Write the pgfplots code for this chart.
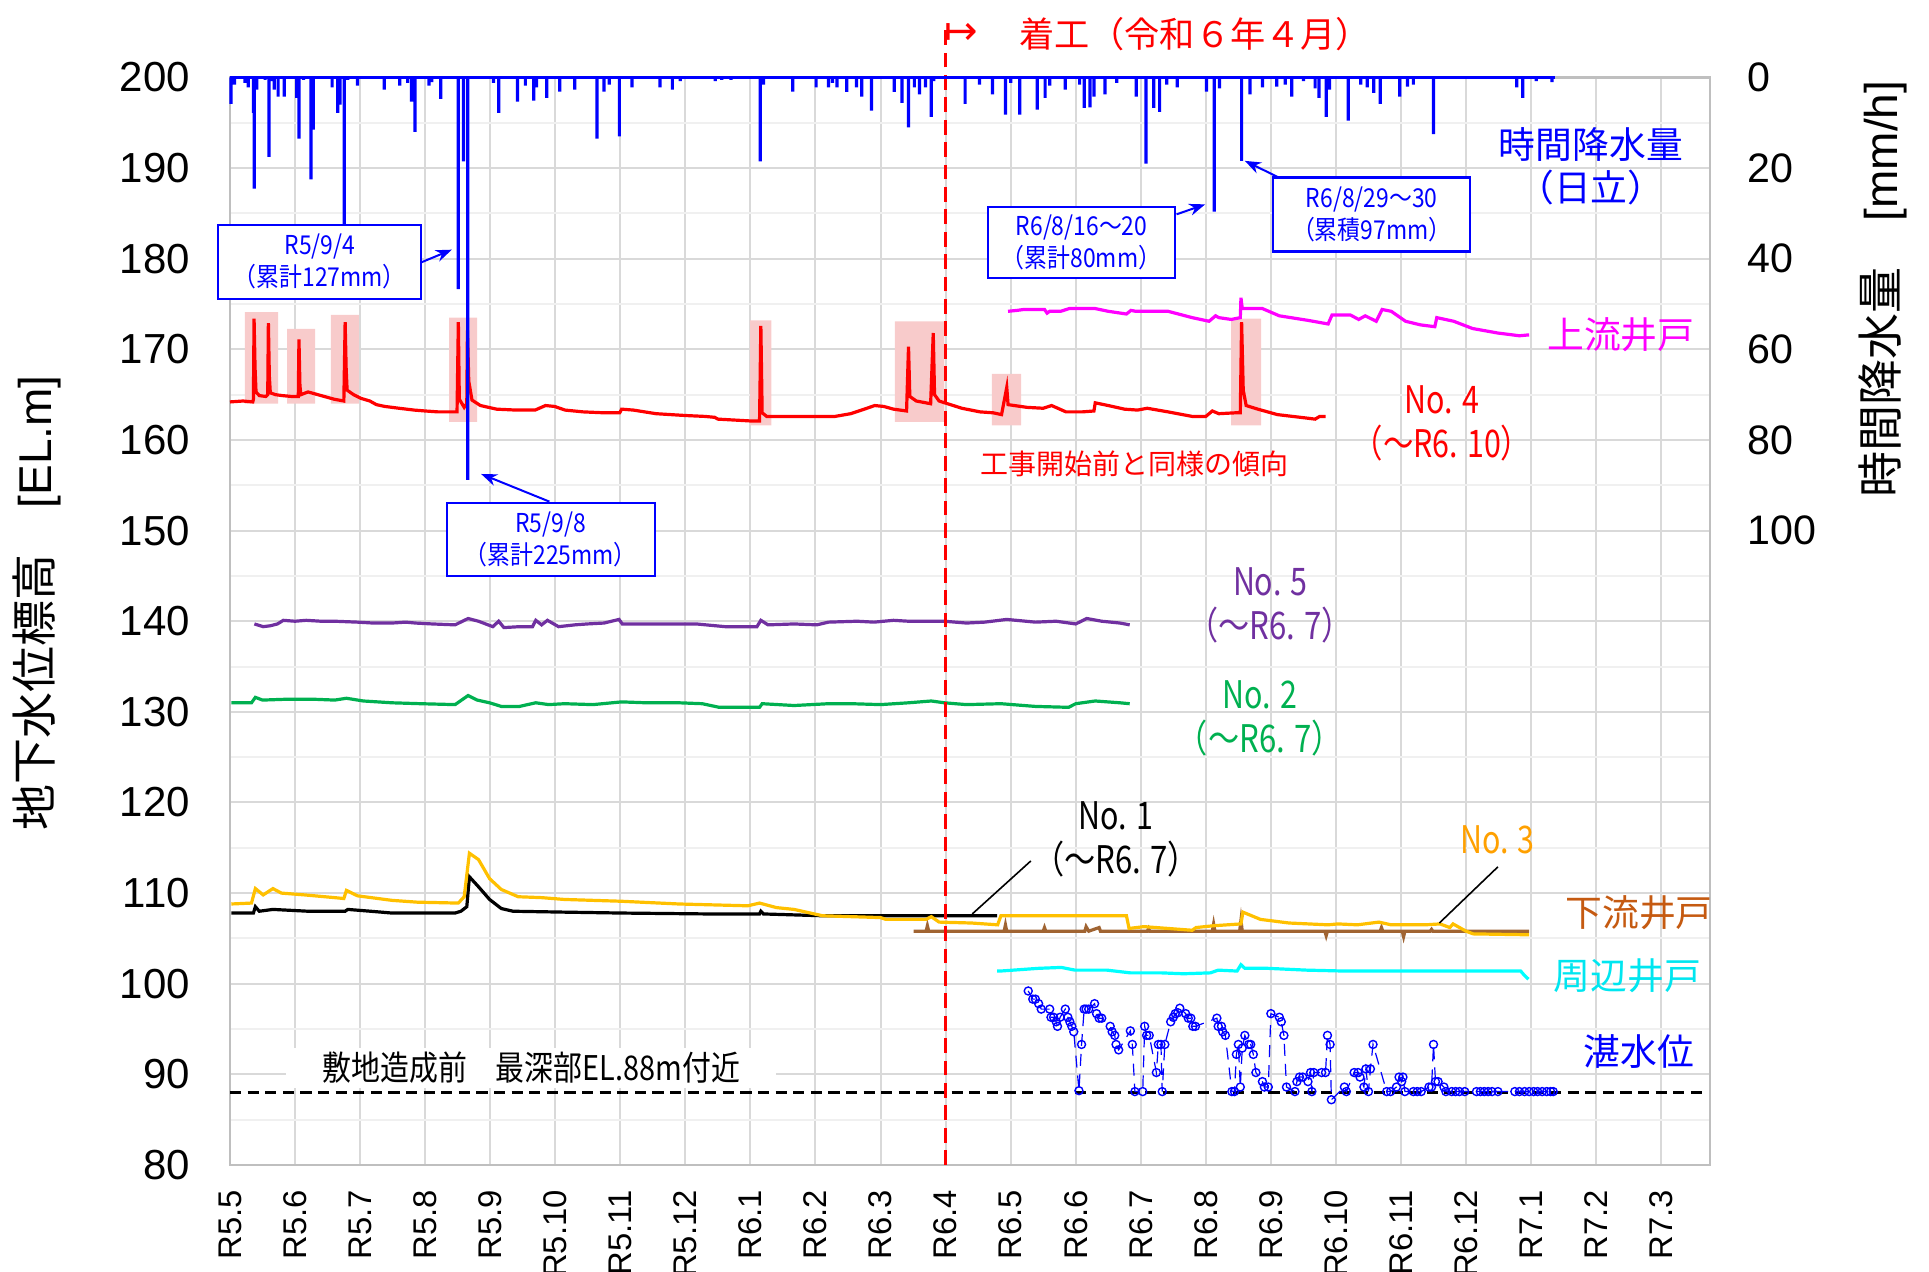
\documentclass[border=0pt]{standalone}
\usepackage{pgfplots}
\pgfplotsset{compat=1.18}
\usepackage{pgfplotstable}
\usepackage{graphicx}
\usepackage{fontspec}
\usetikzlibrary{arrows.meta}
\setmainfont{Liberation Sans}
\newfontfamily\jp{Noto Sans CJK JP}
\newfontfamily\dv{DejaVu Sans}
\newcommand{\sx}[2]{\scalebox{#1}[1]{#2}}

\definecolor{gridc}{RGB}{217,217,217}
\definecolor{gridm}{RGB}{240,240,240}
\definecolor{no5}{RGB}{112,48,160}
\definecolor{no2}{RGB}{0,176,80}
\definecolor{no3}{RGB}{255,192,0}
\definecolor{no3t}{RGB}{255,160,0}
\definecolor{down}{RGB}{160,100,50}
\definecolor{downt}{RGB}{197,90,17}
\definecolor{pinkbox}{RGB}{248,203,203}
\definecolor{rainblue}{RGB}{0,0,255}
\definecolor{mag}{RGB}{255,0,255}
\definecolor{cya}{RGB}{0,255,255}
\definecolor{cyat}{RGB}{0,230,240}

% rainfall (month index from R5.5, mm/h)
\pgfplotstableread{
x r
0.015 5.8
0.07 1.6
0.23 1.2
0.28 2.2
0.36 7.8
0.374 24.5
0.41 2.7
0.54 0.5
0.60 17.5
0.64 0.8
0.68 2.7
0.74 4.2
0.835 4.2
1.025 4.5
1.06 13.5
1.13 0.5
1.245 22.5
1.28 11.5
1.57 2.2
1.655 7.8
1.69 6.0
1.757 48
1.81 0.5
1.96 1.8
2.37 2.7
2.61 1.8
2.73 1.2
2.79 5.3
2.845 12.0
3.06 1.8
3.10 1.0
3.24 4.7
3.51 46.7
3.59 18.5
3.655 88.8
4.05 1.2
4.13 7.8
4.42 5.3
4.54 1.8
4.67 5.1
4.71 2.2
4.87 4.5
5.07 3.1
5.30 2.7
5.64 13.5
5.75 3.1
5.83 1.6
5.985 13
6.18 2.2
6.61 2.2
6.80 2.7
6.92 0.8
7.46 0.8
7.56 0.5
7.70 0.5
8.15 18.5
8.20 1.6
8.65 3.1
9.01 2.2
9.20 2.2
9.26 1.2
9.33 2.2
9.48 3.2
9.63 2.2
9.71 4.2
9.86 7.3
10.21 3.2
10.33 5.6
10.43 11
10.52 2.2
10.60 3.7
10.69 2.2
10.78 8.7
10.82 0.8
11.30 5.8
11.52 1.6
11.72 3.7
11.92 8.2
12.00 1.2
12.14 8.2
12.41 7.1
12.53 4.5
12.60 1.8
12.84 2.7
13.06 1.6
13.13 6.7
13.22 6.6
13.28 4.2
13.45 3.7
13.63 1.2
13.93 4.2
14.08 19
14.20 6.7
14.29 7.6
14.40 1.6
14.56 2.2
15.01 3.1
15.13 29.6
15.21 2.4
15.55 18.4
15.68 3.7
15.87 2.2
16.09 2.0
16.22 1.6
16.32 4.2
16.50 0.8
16.68 2.4
16.74 4.5
16.85 8.7
16.90 2.7
17.19 9.5
17.38 1.6
17.48 2.2
17.58 3.4
17.68 5.8
17.98 4.2
18.10 2.0
18.19 1.6
18.50 12.5
19.78 2.2
19.87 4.5
20.08 0.8
20.32 1.0
}\raintable

% No.4
\pgfplotstableread{
x y
0.00 164.2
0.20 164.3
0.35 164.2
0.36 164.5
0.37 173.4
0.385 168
0.40 165.3
0.45 164.9
0.55 164.8
0.58 165.0
0.59 172.9
0.605 167
0.62 165.2
0.70 165.0
0.80 164.9
0.95 164.8
1.05 164.8
1.06 171.1
1.075 166
1.09 165.0
1.20 165.3
1.30 165.1
1.45 164.8
1.60 164.5
1.75 164.3
1.77 173.0
1.785 168
1.80 165.5
1.90 165.0
2.01 164.6
2.15 164.3
2.25 163.9
2.38 163.7
2.60 163.5
2.83 163.3
3.00 163.2
3.20 163.1
3.49 163.1
3.51 173.0
3.525 164.5
3.60 163.6
3.64 164.0
3.65 172.1
3.67 166.5
3.72 164.4
3.85 163.8
4.10 163.4
4.40 163.3
4.69 163.3
4.85 163.8
4.99 163.7
5.15 163.3
5.43 163.1
5.75 163.0
5.99 163.0
6.02 163.4
6.20 163.3
6.55 162.9
7.00 162.7
7.30 162.6
7.45 162.5
7.50 162.3
8.00 162.1
8.14 162.1
8.16 172.6
8.18 163.0
8.25 162.6
8.79 162.6
9.30 162.6
9.54 162.9
9.75 163.4
9.91 163.8
10.05 163.7
10.20 163.4
10.40 163.2
10.43 170.3
10.45 164.8
10.55 164.3
10.77 164.0
10.81 171.8
10.83 165.0
10.90 164.3
11.03 164.0
11.25 163.5
11.53 163.1
11.73 163.0
11.86 162.8
11.94 165.8
11.96 163.9
12.25 163.6
12.50 163.5
12.63 163.8
12.85 163.1
13.10 163.1
13.28 163.2
13.30 164.1
13.50 163.8
13.75 163.4
13.95 163.3
14.10 163.5
14.42 163.1
14.79 162.6
15.00 162.6
15.10 163.2
15.20 162.9
15.46 163.0
15.53 163.0
15.55 173.0
15.575 165.5
15.62 163.8
15.80 163.4
16.10 162.8
16.57 162.4
16.68 162.3
16.75 162.6
16.84 162.6
}\noFour

% upstream well
\pgfplotstableread{
x y
11.96 174.2
12.10 174.3
12.20 174.4
12.52 174.4
12.56 174.0
12.60 174.2
12.77 174.2
12.90 174.5
13.30 174.5
13.50 174.2
13.78 173.9
13.85 174.3
13.92 174.2
14.42 174.2
14.79 173.5
15.05 173.1
15.15 173.7
15.20 173.5
15.39 173.3
15.53 173.5
15.54 175.7
15.56 174.5
15.87 174.5
16.13 173.7
16.57 173.2
16.88 172.8
16.94 173.8
17.22 173.8
17.35 173.3
17.45 173.7
17.62 173.1
17.71 174.4
17.85 174.2
18.07 173.1
18.30 172.7
18.52 172.5
18.55 173.5
18.81 173.1
19.10 172.3
19.49 171.8
19.82 171.5
19.97 171.6
}\upWell

% No.5
\pgfplotstableread{
x y
0.375 139.7
0.51 139.4
0.62 139.5
0.73 139.7
0.82 140.1
1.00 140.0
1.17 140.1
1.40 140.0
1.61 140.0
1.96 139.9
2.20 139.8
2.49 139.8
2.70 139.9
2.85 139.8
3.11 139.7
3.46 139.6
3.66 140.3
3.82 140.0
4.04 139.4
4.13 140.0
4.21 139.3
4.45 139.4
4.65 139.4
4.70 140.1
4.79 139.6
4.88 140.1
5.05 139.4
5.30 139.6
5.49 139.7
5.75 139.8
5.98 140.2
6.03 139.7
6.55 139.7
7.17 139.7
7.61 139.4
8.10 139.4
8.16 140.1
8.27 139.6
8.67 139.7
9.02 139.6
9.20 139.9
9.64 140.0
9.90 139.9
10.20 140.1
10.43 140.0
10.98 140.0
11.32 139.8
11.60 139.9
11.94 140.2
12.38 139.9
12.70 140.0
13.00 139.7
13.17 140.3
13.40 140.0
13.68 139.8
13.83 139.6
}\noFive

% No.2
\pgfplotstableread{
x y
0.02 131.0
0.33 131.0
0.39 131.6
0.50 131.3
0.90 131.4
1.26 131.4
1.61 131.3
1.79 131.5
2.05 131.2
2.49 131.0
2.93 130.9
3.46 130.8
3.66 131.8
3.80 131.3
3.99 131.0
4.17 130.6
4.45 130.6
4.70 131.0
4.90 130.8
5.14 130.9
5.58 130.8
6.02 131.1
6.40 131.0
6.90 131.0
7.26 130.9
7.52 130.5
8.14 130.5
8.18 130.9
8.67 130.7
9.20 130.9
9.55 130.9
10.00 130.8
10.43 131.0
10.78 131.2
10.98 131.0
11.32 130.8
11.85 130.9
12.38 130.6
12.89 130.5
13.00 130.9
13.30 131.2
13.68 131.0
13.83 130.9
}\noTwo

% No.1
\pgfplotstableread{
x y
0.02 107.8
0.36 107.8
0.39 108.5
0.45 108.0
0.66 108.2
1.20 108.0
1.77 108.0
1.81 108.2
2.16 108.0
2.49 107.8
3.46 107.8
3.55 108.0
3.64 108.5
3.68 111.8
3.82 110.7
3.99 109.3
4.17 108.3
4.35 108.0
5.14 107.9
6.02 107.8
7.35 107.7
8.14 107.7
8.16 108.0
8.20 107.7
9.11 107.5
10.43 107.5
11.40 107.5
11.79 107.5
}\noOne

% No.3
\pgfplotstableread{
x y
0.02 108.8
0.33 108.9
0.39 110.5
0.51 109.8
0.66 110.5
0.79 110.0
1.15 109.8
1.61 109.5
1.75 109.4
1.79 110.3
1.96 109.7
2.49 109.2
2.88 109.0
3.51 108.9
3.60 109.6
3.68 114.4
3.82 113.7
3.99 111.6
4.17 110.4
4.43 109.6
4.79 109.5
5.14 109.3
6.02 109.1
6.90 108.8
7.96 108.6
8.14 108.9
8.40 108.4
8.67 108.2
9.11 107.5
10.00 107.3
10.08 107.1
10.70 107.1
10.78 107.4
10.90 106.8
11.40 106.7
11.80 106.5
11.85 107.5
12.40 107.5
13.08 107.5
13.78 107.5
13.82 106.1
14.05 106.3
14.79 105.9
14.85 106.2
15.12 106.4
15.54 106.6
15.57 107.9
15.84 107.1
16.28 106.7
16.88 106.5
17.03 106.6
17.33 106.5
17.66 106.8
17.85 106.5
18.37 106.5
18.60 106.6
18.75 106.2
18.80 106.6
19.00 105.8
19.11 105.5
19.97 105.4
}\noThree

% downstream well
\pgfplotstableread{
x y
10.51 105.8
10.70 105.8
10.72 106.4
10.74 105.8
11.50 105.8
11.90 105.8
11.92 106.5
11.94 105.8
12.50 105.8
12.52 106.2
12.54 105.8
13.14 105.8
13.16 106.3
13.20 105.8
13.36 106.2
13.38 105.8
14.10 105.8
14.12 106.1
14.14 105.8
15.10 105.8
15.12 106.6
15.14 105.8
15.52 105.8
15.54 107.0
15.56 105.8
16.83 105.8
16.85 105.3
16.87 105.8
17.68 105.8
17.70 106.2
17.72 105.8
18.02 105.8
18.04 105.2
18.06 105.8
18.45 105.8
18.47 106.0
18.49 105.8
19.97 105.8
}\downWell

% surrounding well
\pgfplotstableread{
x y
11.79 101.4
11.84 101.4
12.43 101.7
12.78 101.8
12.99 101.5
13.48 101.5
13.84 101.2
14.31 101.2
14.66 101.1
15.07 101.2
15.19 101.5
15.48 101.4
15.54 102.1
15.60 101.7
15.95 101.7
16.55 101.5
17.13 101.4
17.72 101.4
19.84 101.4
19.90 100.9
19.96 100.5
}\aroundWell

% ponding level
\pgfplotstableread{
x y
12.27 99.2
12.34 98.3
12.38 98.3
12.43 97.8
12.47 97.2
12.60 97.2
12.62 96.3
12.66 96.3
12.70 95.8
12.72 95.3
12.76 96.3
12.84 97.2
12.88 96.3
12.91 95.8
12.94 95.3
12.97 94.7
13.05 88.2
13.09 93.3
13.13 97.2
13.16 97.2
13.20 97.2
13.29 97.8
13.32 96.7
13.36 96.2
13.40 96.2
13.53 95.3
13.56 94.7
13.60 94.3
13.62 93.3
13.66 92.7
13.84 94.8
13.87 93.3
13.91 88.1
14.03 88.1
14.06 95.3
14.09 94.3
14.13 94.3
14.24 90.2
14.27 93.3
14.31 93.3
14.33 88.1
14.37 93.3
14.46 95.8
14.50 96.3
14.53 96.7
14.57 96.8
14.60 97.3
14.69 96.7
14.73 96.2
14.77 96.2
14.80 95.3
14.84 95.3
15.17 96.2
15.19 95.3
15.24 95.3
15.26 94.7
15.30 94.3
15.40 88.1
15.44 88.1
15.47 92.2
15.50 93.3
15.53 88.6
15.56 92.9
15.60 94.3
15.66 93.3
15.69 93.3
15.73 92.2
15.77 90.2
15.87 89.2
15.90 88.6
15.96 88.6
16.00 96.7
16.13 96.3
16.16 95.8
16.20 94.3
16.24 88.6
16.37 88.1
16.40 89.2
16.44 89.7
16.49 89.7
16.57 89.2
16.61 90.2
16.63 88.1
16.66 90.2
16.78 90.2
16.84 90.2
16.87 94.3
16.91 93.3
16.93 87.2
17.13 88.6
17.16 88.1
17.28 90.2
17.34 90.2
17.37 89.7
17.43 88.6
17.46 90.6
17.50 88.1
17.53 90.6
17.57 93.3
17.78 88.1
17.84 88.1
17.93 88.6
17.97 89.7
18.01 89.2
18.03 89.7
18.06 88.1
18.19 88.1
18.25 88.1
18.31 88.1
18.43 88.6
18.47 88.6
18.50 93.3
18.53 89.2
18.57 89.2
18.66 88.6
18.69 88.1
18.78 88.1
18.84 88.1
18.90 88.1
18.98 88.1
19.16 88.1
19.22 88.1
19.28 88.1
19.34 88.1
19.40 88.1
19.49 88.1
19.75 88.1
19.82 88.1
19.90 88.1
19.97 88.1
20.04 88.1
20.10 88.1
20.17 88.1
20.24 88.1
20.30 88.1
20.34 88.1
}\tanTable

\begin{document}
\begin{tikzpicture}
\path[use as bounding box] (-57.5pt,-26.75pt) rectangle (424.75pt,291.25pt);

\begin{axis}[
  at={(0pt,0pt)}, anchor=south west,
  scale only axis, width=370pt, height=271.875pt,
  xmin=0, xmax=22.75, ymin=80, ymax=200,
  xtick={0,...,22},
  xticklabels={R5.5,R5.6,R5.7,R5.8,R5.9,R5.10,R5.11,R5.12,R6.1,R6.2,R6.3,R6.4,R6.5,R6.6,R6.7,R6.8,R6.9,R6.10,R6.11,R6.12,R7.1,R7.2,R7.3},
  ytick={80,90,...,200},
  minor ytick={85,95,...,195},
  grid=both,
  major grid style={draw=gridc, line width=0.5pt},
  minor grid style={draw=gridm, line width=0.5pt},
  axis line style={draw=gray!50, line width=0.6pt},
  major tick length=0pt, minor tick length=0pt,
  clip=false,
  /pgf/number format/assume math mode=true,
  yticklabel style={font=\fontsize{10.5}{12}\selectfont},
  yticklabel shift=6.5pt,
  xticklabel style={font=\fontsize{8.2}{9}\selectfont, rotate=90, anchor=east},
  xticklabel shift=2.8pt,
]
% highlight boxes
\addplot[fill=pinkbox, draw=none] coordinates {(0.23,164.0) (0.74,164.0) (0.74,174.1) (0.23,174.1) (0.23,164.0)};
\addplot[fill=pinkbox, draw=none] coordinates {(0.88,164.0) (1.31,164.0) (1.31,172.25) (0.88,172.25) (0.88,164.0)};
\addplot[fill=pinkbox, draw=none] coordinates {(1.55,164.0) (1.98,164.0) (1.98,173.8) (1.55,173.8) (1.55,164.0)};
\addplot[fill=pinkbox, draw=none] coordinates {(3.37,162.0) (3.80,162.0) (3.80,173.5) (3.37,173.5) (3.37,162.0)};
\addplot[fill=pinkbox, draw=none] coordinates {(7.99,161.6) (8.32,161.6) (8.32,173.2) (7.99,173.2) (7.99,161.6)};
\addplot[fill=pinkbox, draw=none] coordinates {(10.22,162.0) (10.98,162.0) (10.98,173.1) (10.22,173.1) (10.22,162.0)};
\addplot[fill=pinkbox, draw=none] coordinates {(11.71,161.6) (12.16,161.6) (12.16,167.3) (11.71,167.3) (11.71,161.6)};
\addplot[fill=pinkbox, draw=none] coordinates {(15.39,161.6) (15.85,161.6) (15.85,173.4) (15.39,173.4) (15.39,161.6)};

\node[fill=white, inner xsep=9pt, inner ysep=1pt, font=\jp\fontsize{8.5}{10}\selectfont] at (axis cs:4.63,90.7) {\sx{0.85}{敷地造成前　最深部EL.88m付近}};
\addplot[black, line width=0.85pt, dash pattern=on 2.8pt off 1.6pt] coordinates {(0,88) (22.66,88)};

\addplot[down, line width=0.8pt] table {\downWell};
\addplot[cya, line width=0.8pt] table {\aroundWell};
\addplot[black, line width=0.8pt] table {\noOne};
\addplot[no3, line width=0.8pt] table {\noThree};
\addplot[no2, line width=0.8pt] table {\noTwo};
\addplot[no5, line width=0.8pt] table {\noFive};
\addplot[red, line width=0.8pt] table {\noFour};
\addplot[mag, line width=0.8pt] table {\upWell};
\addplot[blue, line width=0.3pt, densely dashed, mark=o, mark size=1pt, mark options={solid, line width=0.35pt}] table {\tanTable};

\draw[red, line width=0.9pt, dash pattern=on 3.7pt off 1.9pt] (axis cs:11,80) -- (axis cs:11,205.8);

% series labels
\node[text=mag, font=\jp\fontsize{9.2}{11}\selectfont] at (axis cs:21.38,171.6) {上流井戸};
\node[text=red, font=\jp\fontsize{9.5}{11}\selectfont] at (axis cs:18.63,164.4) {\sx{0.8}{No. 4}};
\node[text=red, font=\jp\fontsize{9.5}{11}\selectfont] at (axis cs:18.63,159.7) {\sx{0.8}{（～R6. 10）}};
\node[text=red, font=\jp\fontsize{7}{8}\selectfont] at (axis cs:13.9,157.35) {工事開始前と同様の傾向};
\node[text=no5, font=\jp\fontsize{9.5}{11}\selectfont] at (axis cs:15.99,144.4) {\sx{0.8}{No. 5}};
\node[text=no5, font=\jp\fontsize{9.5}{11}\selectfont] at (axis cs:15.99,139.6) {\sx{0.82}{（～R6. 7）}};
\node[text=no2, font=\jp\fontsize{9.5}{11}\selectfont] at (axis cs:15.83,131.9) {\sx{0.8}{No. 2}};
\node[text=no2, font=\jp\fontsize{9.5}{11}\selectfont] at (axis cs:15.83,127.1) {\sx{0.82}{（～R6. 7）}};
\node[text=black, font=\jp\fontsize{9.5}{11}\selectfont] at (axis cs:13.62,118.5) {\sx{0.8}{No. 1}};
\node[text=black, font=\jp\fontsize{9.5}{11}\selectfont] at (axis cs:13.62,113.8) {\sx{0.82}{（～R6. 7）}};
\draw[black, line width=0.4pt] (axis cs:12.31,113.55) -- (axis cs:11.41,107.7);
\node[text=no3t, font=\jp\fontsize{9.5}{11}\selectfont] at (axis cs:19.48,115.9) {\sx{0.8}{No. 3}};
\draw[black, line width=0.4pt] (axis cs:19.49,112.9) -- (axis cs:18.59,106.7);
\node[text=downt, font=\jp\fontsize{9.2}{11}\selectfont] at (axis cs:21.66,107.8) {下流井戸};
\node[text=cyat, font=\jp\fontsize{9.2}{11}\selectfont] at (axis cs:21.48,100.9) {周辺井戸};
\node[text=blue, font=\jp\fontsize{9.2}{11}\selectfont] at (axis cs:21.66,92.5) {湛水位};
\end{axis}

\begin{axis}[
  at={(0pt,0pt)}, anchor=south west,
  scale only axis, width=370pt, height=271.875pt,
  xmin=0, xmax=22.75, ymin=0, ymax=240, y dir=reverse,
  axis x line=none, axis y line*=right,
  axis line style={draw=none},
  ytick={0,20,...,100},
  major tick length=0pt,
  clip=false,
  /pgf/number format/assume math mode=true,
  yticklabel style={font=\fontsize{10.3}{12}\selectfont},
  yticklabel shift=5.8pt,
]
\addplot[ybar, bar width=0.8pt, fill=rainblue, draw=none] table[x=x, y=r] {\raintable};
\addplot[rainblue, line width=0.9pt] coordinates {(0,0) (20.37,0)};

\tikzset{abox/.style={draw=blue, line width=0.6pt, fill=white, text=blue, align=center, inner sep=1pt, font=\jp\fontsize{6.5}{8}\selectfont}}
\node[abox, minimum width=50.75pt, minimum height=18.5pt] at (axis cs:1.38,40.7) {\sx{0.88}{R5/9/4}\\\sx{0.88}{（累計127mm）}};
\draw[blue, line width=0.5pt, -{Stealth[length=4pt,width=3pt]}] (axis cs:2.94,40.8) -- (axis cs:3.41,38.0);
\node[abox, minimum width=52pt, minimum height=18.25pt] at (axis cs:4.93,102) {\sx{0.88}{R5/9/8}\\\sx{0.88}{（累計225mm）}};
\draw[blue, line width=0.5pt, -{Stealth[length=4pt,width=3pt]}] (axis cs:4.91,93.6) -- (axis cs:3.86,87.5);
\node[abox, minimum width=46.75pt, minimum height=17.75pt] at (axis cs:13.09,36.4) {\sx{0.88}{R6/8/16～20}\\\sx{0.88}{（累計80mm）}};
\draw[blue, line width=0.5pt, -{Stealth[length=4pt,width=3pt]}] (axis cs:14.55,30.2) -- (axis cs:14.99,28.0);
\node[abox, minimum width=49.25pt, minimum height=18.5pt] at (axis cs:17.55,30.2) {\sx{0.88}{R6/8/29～30}\\\sx{0.88}{（累積97mm）}};
\draw[blue, line width=0.5pt, -{Stealth[length=4pt,width=3pt]}] (axis cs:16.14,22.2) -- (axis cs:15.6,18.4);

\node[text=blue, font=\jp\fontsize{9.2}{11}\selectfont] at (axis cs:20.92,14.7) {時間降水量};
\node[text=blue, font=\jp\fontsize{9.2}{11}\selectfont] at (axis cs:20.92,24.2) {（日立）};
\end{axis}

% axis titles and header
\node[rotate=90, font=\fontsize{11.5}{13}\selectfont] at (-48.25pt,140.5pt) {{\jp 地下水位標高}\hspace{1em}[EL.m]};
\node[rotate=90, font=\fontsize{11.5}{13}\selectfont] at (413.25pt,219pt) {{\jp 時間降水量}\hspace{1em}[mm/h]};
\node[text=red, font=\dv\fontsize{10}{12}\selectfont] at (182.75pt,282.75pt) {↦};
\node[text=red, font=\jp\fontsize{8.8}{10}\selectfont] at (241.25pt,282.75pt) {着工（令和６年４月）};
\end{tikzpicture}
\end{document}
